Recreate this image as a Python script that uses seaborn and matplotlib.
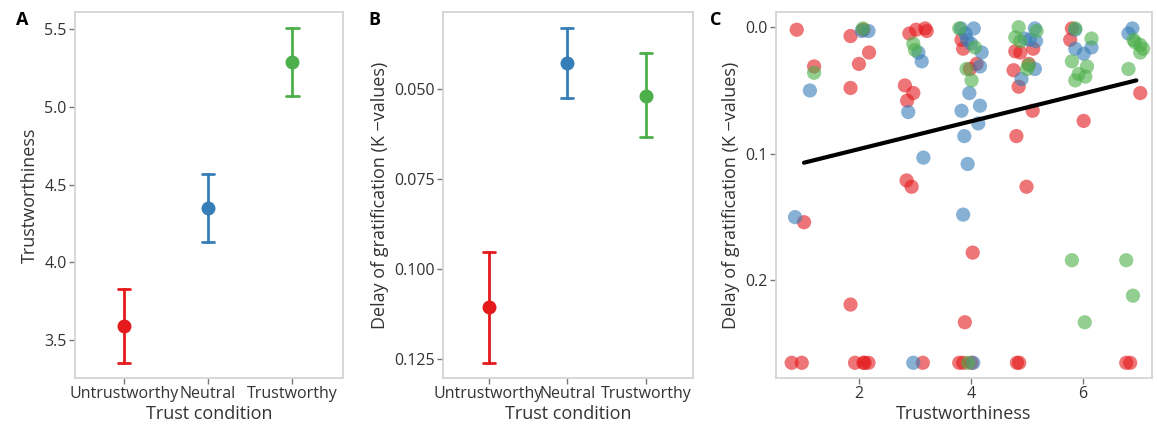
import numpy as np
import pandas as pd
import matplotlib
matplotlib.use("Agg")
import matplotlib.pyplot as plt
import seaborn as sns

# panel A / B: condition means with error bar limits
conditions = ["Untrustworthy", "Neutral", "Trustworthy"]
colors = ["#E41A1C", "#377EB8", "#4DAF4A"]

trust_mean = [3.59, 4.35, 5.29]
trust_low = [3.35, 4.13, 5.07]
trust_high = [3.83, 4.57, 5.51]

k_mean = [0.1106, 0.0428, 0.0519]
k_low = [0.0953, 0.0331, 0.0400]
k_high = [0.1261, 0.0525, 0.0633]

# panel C: individual participants (trustworthiness vs K-value)
red_x = [0.89, 1.20, 1.85, 2.00, 2.18, 1.85, 2.08, 2.82, 2.97, 2.86, 2.90, 3.02, 3.18, 3.21,
         2.85, 2.94, 3.83, 3.86, 3.98, 4.10, 4.76, 4.79, 4.88, 5.11, 5.03, 4.85, 5.10, 4.81,
         4.99, 5.80, 5.77, 6.01, 7.02, 1.02, 4.03, 1.85, 3.89,
         0.80, 0.98, 1.93, 2.08, 2.10, 2.17, 3.14, 3.79, 3.86, 4.01, 4.82, 4.86, 6.77, 6.84]
red_y = [0.002, 0.031, 0.007, 0.029, 0.020, 0.048, 0.002, 0.046, 0.052, 0.058, 0.005, 0.002, 0.001, 0.003,
         0.121, 0.126, 0.010, 0.017, 0.033, 0.029, 0.034, 0.019, 0.020, 0.017, 0.029, 0.047, 0.066, 0.086,
         0.126, 0.001, 0.010, 0.074, 0.052, 0.154, 0.178, 0.219, 0.233,
         0.265, 0.265, 0.265, 0.265, 0.265, 0.265, 0.265, 0.265, 0.265, 0.265, 0.265, 0.265, 0.265, 0.265]

blue_x = [1.125, 2.05, 2.17, 2.88, 3.06, 3.12, 3.15, 3.82, 3.90, 4.05, 3.93, 4.00, 4.19, 4.16,
          3.97, 3.83, 4.16, 4.13, 3.88, 3.94, 4.90, 5.14, 4.96, 5.05, 5.14, 5.16, 5.86, 6.01,
          6.15, 5.86, 6.81, 6.88, 0.86, 3.86, 2.97, 4.04]
blue_y = [0.050, 0.003, 0.003, 0.067, 0.020, 0.027, 0.103, 0.001, 0.005, 0.001, 0.010, 0.013, 0.020, 0.031,
          0.052, 0.066, 0.062, 0.076, 0.086, 0.108, 0.041, 0.033, 0.009, 0.010, 0.001, 0.011, 0.017, 0.021,
          0.016, 0.002, 0.005, 0.001, 0.150, 0.148, 0.265, 0.265]

green_x = [1.20, 2.07, 2.97, 3.00, 3.79, 4.07, 3.92, 4.01, 4.85, 4.79, 4.88, 5.03, 5.00, 5.17,
           5.86, 6.15, 5.80, 6.07, 6.04, 5.92, 5.86, 6.81, 6.90, 7.02, 7.07, 7.02, 6.93,
           5.80, 6.77, 6.89, 6.03, 3.95]
green_y = [0.036, 0.001, 0.013, 0.018, 0.001, 0.016, 0.033, 0.042, 0.000, 0.008, 0.011, 0.030, 0.033, 0.003,
           0.001, 0.009, 0.027, 0.031, 0.039, 0.037, 0.042, 0.033, 0.010, 0.014, 0.017, 0.020, 0.012,
           0.184, 0.184, 0.212, 0.233, 0.265]

fit_x = [1.02, 6.95]
fit_y = [0.107, 0.042]

sns.set_theme(style="white")
plt.rcParams["font.family"] = ["Open Sans", "DejaVu Sans"]
text_col = "#333333"
spine_col = "#D4D4D4"


def interval_table(mean, low, high):
    rows = []
    for c, m, lo, hi in zip(conditions, mean, low, high):
        for v in (lo, m, hi):
            rows.append({"cond": c, "value": v})
    return pd.DataFrame(rows)


def style_axis(ax):
    for s in ax.spines.values():
        s.set_visible(True)
        s.set_color(spine_col)
        s.set_linewidth(1.3)
    ax.tick_params(axis="both", direction="out", length=4, width=1, color="#777777",
                   labelsize=11.5, labelcolor=text_col, bottom=True, left=True, pad=2)


def condition_panel(ax, mean, low, high):
    df = interval_table(mean, low, high)
    sns.pointplot(data=df, x="cond", y="value", hue="cond", order=conditions, hue_order=conditions,
                  palette=colors, estimator="median", errorbar=("pi", 100), capsize=0.15,
                  linestyle="none", markersize=8, err_kws={"linewidth": 2}, legend=False, ax=ax)
    ax.set_xlim(-0.58, 2.6)
    ax.set_xlabel("Trust condition", fontsize=13, color=text_col, labelpad=2)
    style_axis(ax)


fig = plt.figure(figsize=(11.57, 4.25), dpi=100)
bottom, height = 0.1106, 0.8612
ax_a = fig.add_axes([0.0648, bottom, 0.2316, height])
ax_b = fig.add_axes([0.3829, bottom, 0.2161, height])
ax_c = fig.add_axes([0.6707, bottom, 0.3250, height])

condition_panel(ax_a, trust_mean, trust_low, trust_high)
ax_a.set_ylim(3.256, 5.61)
ax_a.set_yticks([3.5, 4.0, 4.5, 5.0, 5.5])
ax_a.set_ylabel("Trustworthiness", fontsize=13, color=text_col)

condition_panel(ax_b, k_mean, k_low, k_high)
ax_b.set_ylim(0.1303, 0.0286)
ax_b.set_yticks([0.050, 0.075, 0.100, 0.125])
ax_b.set_yticklabels(["0.050", "0.075", "0.100", "0.125"])
ax_b.set_ylabel("Delay of gratification (K \u2212values)", fontsize=13, color=text_col)

scatter = pd.concat([
    pd.DataFrame({"trust": red_x, "k": red_y, "cond": "Untrustworthy"}),
    pd.DataFrame({"trust": blue_x, "k": blue_y, "cond": "Neutral"}),
    pd.DataFrame({"trust": green_x, "k": green_y, "cond": "Trustworthy"}),
], ignore_index=True)
sns.scatterplot(data=scatter, x="trust", y="k", hue="cond", hue_order=conditions, palette=colors,
                s=105, alpha=0.6, edgecolor="none", legend=False, ax=ax_c)
sns.lineplot(x=fit_x, y=fit_y, color="black", linewidth=3, ax=ax_c)
ax_c.set_xlim(0.52, 7.23)
ax_c.set_ylim(0.277, -0.012)
ax_c.set_xticks([2, 4, 6])
ax_c.set_yticks([0.0, 0.1, 0.2])
ax_c.set_yticklabels(["0.0", "0.1", "0.2"])
ax_c.set_xlabel("Trustworthiness", fontsize=13, color=text_col, labelpad=2)
ax_c.set_ylabel("Delay of gratification (K \u2212values)", fontsize=13, color=text_col)
style_axis(ax_c)

for label, xpos in [("A", 0.014), ("B", 0.318), ("C", 0.614)]:
    fig.text(xpos, 0.952, label, fontsize=13, fontweight="bold", color="black", va="center")

fig.savefig("out.png", dpi=100, facecolor="white")
